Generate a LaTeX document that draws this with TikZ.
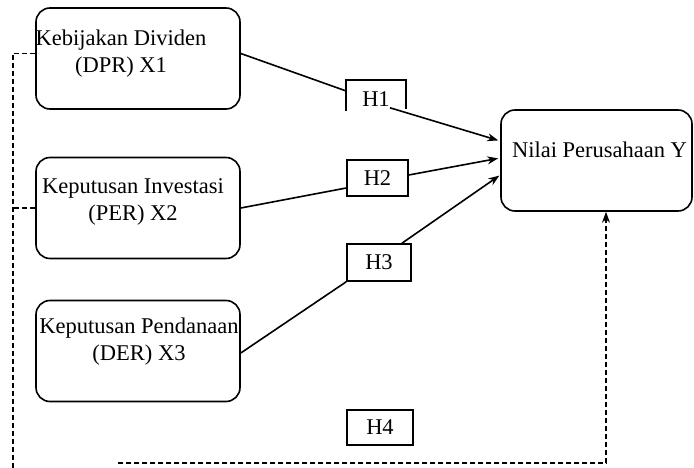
\documentclass[tikz,border=0pt]{standalone}
\usepackage{fontspec}
\setmainfont{Liberation Serif}
\usetikzlibrary{arrows.meta}
\tikzset{>={Stealth[length=11pt,width=8pt]}}
\tikzset{
  varbox/.style={draw, rounded corners=14pt, minimum width=204pt, minimum height=101pt},
  vartext/.style={align=center, inner sep=0pt, font=\fontsize{22.5}{27}\selectfont},
  hbox/.style={draw, inner sep=0pt, minimum height=36pt, font=\fontsize{22.5}{27}\selectfont},
  dashlink/.style={line width=1.3pt, dash pattern=on 5pt off 3pt}
}
\begin{document}
\begin{tikzpicture}[x=1pt,y=-1pt,line width=1.6pt]
\useasboundingbox (0,0) rectangle (694,468);
\node[varbox] (X1) at (138,58.5) {};
\node[varbox] (X2) at (138,208) {};
\node[varbox] (X3) at (138,351) {};
\node[varbox, minimum width=191pt] (Y) at (596.5,160.5) {};
\node[vartext] (X1text) at (121,54) {Kebijakan Dividen\\(DPR) X1};
\node[vartext] (X2text) at (133,202) {Keputusan Investasi\\(PER) X2};
\node[vartext] (X3text) at (139,341.5) {Keputusan Pendanaan\\(DER) X3};
\node[vartext] (Ytext) at (599.5,150) {Nilai Perusahaan Y};
\node[hbox, draw=none, minimum width=58pt] (H1) at (376,99) {H1};
\node[hbox, minimum width=61pt] (H2) at (377.5,178) {H2};
\node[hbox, minimum width=64pt, minimum height=37pt] (H3) at (379,262.5) {H3};
\node[hbox, minimum width=66pt, minimum height=35pt] (H4) at (380,427.5) {H4};
\draw ([yshift=7pt]H1.south west) -- (H1.north west) -- (H1.north east) -- ([yshift=9pt]H1.south east);
\draw ([yshift=5pt]X1.east) -- ([yshift=8pt]H1.west);
\draw[->, shorten >=2pt] ([xshift=14pt,yshift=10pt]H1.south) -- ([yshift=19.5pt]Y.west);
\draw (X2.east) -- ([yshift=-10pt]H2.west);
\draw[->, shorten >=2pt] ([yshift=3pt]H2.east) -- ([yshift=2.5pt]Y.west);
\draw ([yshift=-2pt]X3.east) -- (H3.south west);
\draw[->, shorten >=1pt] ([xshift=23pt]H3.north) -- ([yshift=-14.5pt]Y.west);
\coordinate (L) at (13,468);
\coordinate (B) at (118,463);
\draw[dashlink] ([yshift=5pt]X1.west) -| (L);
\draw[dashlink] (X2.west) -- (X2.west -| L);
\draw[dashlink, ->] (B) -| ([xshift=9.5pt]Y.south);
\end{tikzpicture}
\end{document}
